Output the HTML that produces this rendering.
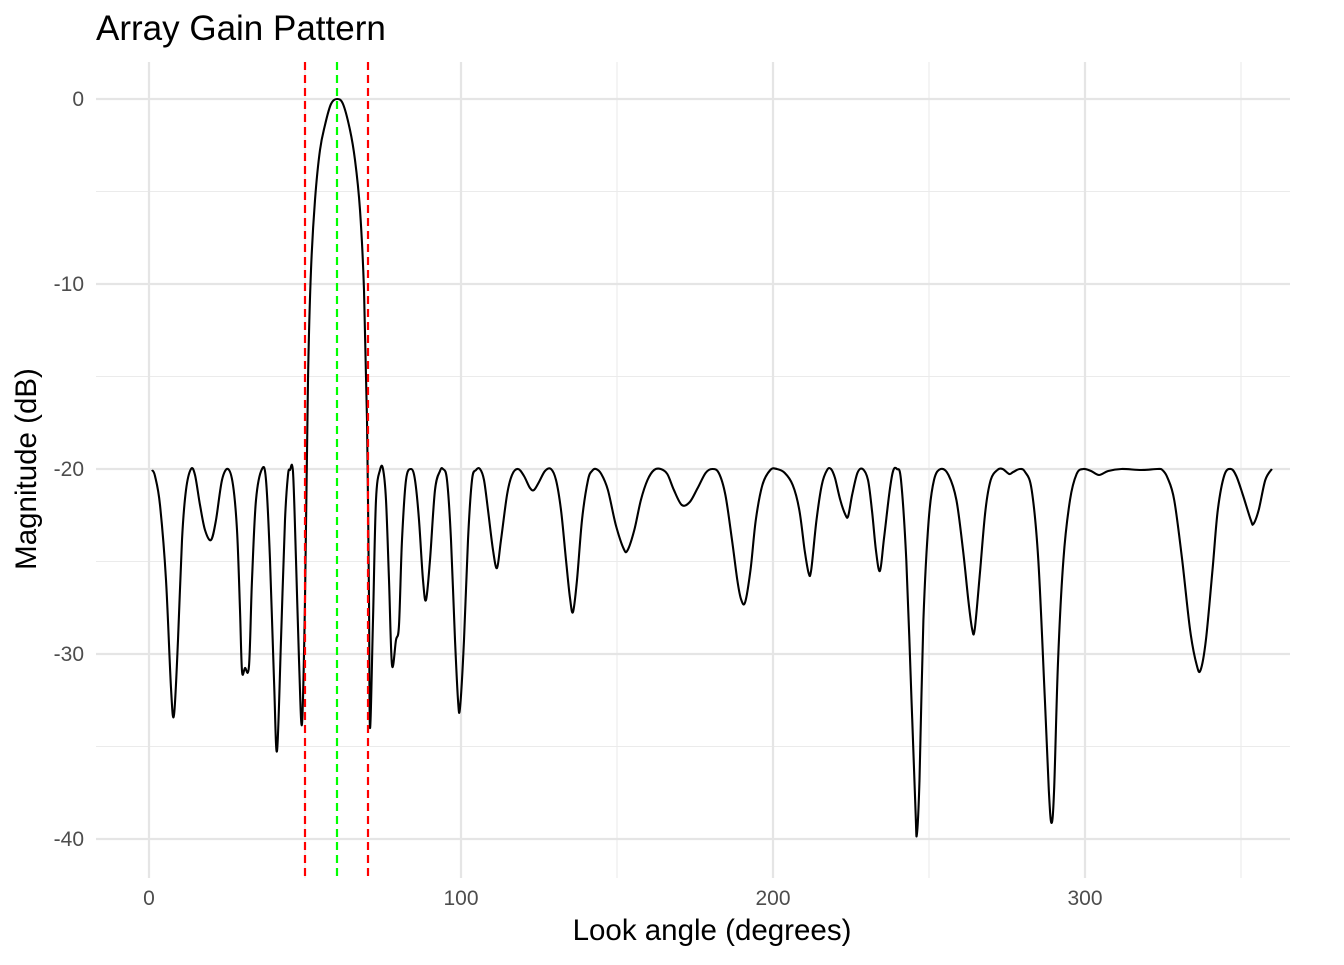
<!DOCTYPE html>
<html><head><meta charset="utf-8"><style>
body{margin:0;background:#fff;}
svg text{font-family:"Liberation Sans",sans-serif;}
</style></head><body>
<svg id="s" width="1344" height="960" viewBox="0 0 1344 960" xmlns="http://www.w3.org/2000/svg">
<rect width="1344" height="960" fill="#fff"/>
<g stroke="#ebebeb" stroke-width="1.1">
<line x1="96" x2="1290" y1="191.5" y2="191.5"/><line x1="96" x2="1290" y1="376.5" y2="376.5"/>
<line x1="96" x2="1290" y1="561.5" y2="561.5"/><line x1="96" x2="1290" y1="746.5" y2="746.5"/>
<line x1="305" x2="305" y1="62" y2="878"/><line x1="617" x2="617" y1="62" y2="878"/>
<line x1="929" x2="929" y1="62" y2="878"/><line x1="1241" x2="1241" y1="62" y2="878"/>
</g>
<g stroke="#e5e5e5" stroke-width="2.2">
<line x1="96" x2="1290" y1="99" y2="99"/><line x1="96" x2="1290" y1="284" y2="284"/>
<line x1="96" x2="1290" y1="469" y2="469"/><line x1="96" x2="1290" y1="654" y2="654"/>
<line x1="96" x2="1290" y1="839" y2="839"/>
<line x1="149" x2="149" y1="62" y2="878"/><line x1="461" x2="461" y1="62" y2="878"/>
<line x1="773" x2="773" y1="62" y2="878"/><line x1="1085" x2="1085" y1="62" y2="878"/>
</g>
<path id="curve" fill="none" stroke="#000" stroke-width="2.1" stroke-linejoin="round"/>
<g stroke-width="2.2" stroke-dasharray="8,5">
<line x1="305" x2="305" y1="62" y2="878" stroke="#ff0000"/>
<line x1="368" x2="368" y1="62" y2="878" stroke="#ff0000"/>
<line x1="337" x2="337" y1="62" y2="878" stroke="#00ff00"/>
</g>
<g fill="#4d4d4d" font-size="21" text-anchor="end">
<text x="84" y="106">0</text><text x="84" y="291">-10</text><text x="84" y="476">-20</text>
<text x="84" y="661">-30</text><text x="84" y="846">-40</text>
</g>
<g fill="#4d4d4d" font-size="21" text-anchor="middle">
<text x="149" y="905">0</text><text x="461" y="905">100</text><text x="773" y="905">200</text><text x="1085" y="905">300</text>
</g>
<text x="712" y="940" font-size="29.5" text-anchor="middle" fill="#000">Look angle (degrees)</text>
<text transform="translate(36,469) rotate(-90)" font-size="29.5" text-anchor="middle" fill="#000">Magnitude (dB)</text>
<text x="96" y="40" font-size="35" fill="#000">Array Gain Pattern</text>
</svg>
<script>
var p=[[152,470],[155,476],[160,505],[166,580],[171,688],[174,715],[178,640],[182,540],[186,490],[191,469],[195,475],[200,505],[205,530],[211,540],[216,520],[222,480],[228,469],[233,485],[237,530],[240,610],[242,671],[245,668],[249,666],[252,580],[256,500],[262,469],[266,480],[270,560],[274,680],[277,751],[281,640],[285,520],[288,475],[290,470],[293,472],[296,560],[299,660],[302,724],[305,600],[308,380],[311,270],[315,200],[320,150],[325,125],[331,104],[337,99],[343,104],[350,130],[355,160],[360,210],[364,290],[367,420],[369,600],[370,728],[373,620],[376,500],[380,470],[383,469],[386,500],[389,580],[392,665],[396,640],[399,625],[402,540],[406,480],[411,469],[415,480],[419,520],[423,580],[426,600],[430,560],[435,490],[440,471],[443,469],[447,480],[451,540],[455,640],[458,700],[460,708],[464,640],[468,540],[472,480],[476,470],[480,469],[484,480],[488,510],[493,550],[497,568],[501,540],[507,495],[512,475],[518,469],[524,476],[530,488],[534,490],[539,482],[545,471],[551,469],[556,480],[561,510],[566,560],[570,598],[573,612],[577,580],[582,520],[588,480],[592,471],[596,469],[601,474],[606,490],[612,525],[618,549],[621,550],[626,530],[631,500],[636,480],[641,470],[646,469],[651,474],[656,490],[662,505],[668,502],[674,488],[680,473],[685,469],[690,473],[695,495],[700,540],[704,580],[707,600],[710,602],[714,570],[718,520],[723,485],[729,470],[734,469],[740,473],[746,485],[751,510],[755,550],[758,573],[760,570],[764,520],[768,485],[772,470],[775,469],[778,478],[782,500],[786,515],[788,516],[791,495],[795,473],[799,469],[803,480],[806,510],[809,550],[812,571],[815,540],[819,495],[822,471],[825,469],[828,480],[832,560],[836,700],[839,810],[840,835],[842,780],[845,620],[849,520],[853,480],[858,469],[864,475],[870,500],[875,550],[879,600],[882,630],[884,628],[888,570],[892,510],[896,480],[901,470],[905,469],[910,474],[913,472],[918,469],[922,472],[927,490],[932,560],[937,700],[940,790],[942,823],[944,790],[947,660],[951,560],[956,500],[961,474],[966,469],[972,471],[978,475],[985,471],[995,469],[1010,470],[1022,469],[1026,470],[1030,478],[1035,500],[1041,560],[1047,630],[1052,665],[1055,670],[1059,640],[1064,570],[1068,510],[1073,475],[1078,469],[1082,476],[1087,495],[1093,520],[1095,524],[1099,510],[1104,480],[1109,469]];
for(var k=0;k<p.length;k++){if(p[k][0]>600)p[k][0]=600+(p[k][0]-600)*1.3201;}
var sx=function(v){return v.toFixed(1)};var d="M"+p[0][0]+","+p[0][1];
for(var i=0;i<p.length-1;i++){var p0=p[Math.max(i-1,0)],p1=p[i],p2=p[i+1],p3=p[Math.min(i+2,p.length-1)];
d+=" C"+sx(p1[0]+(p2[0]-p0[0])/6)+","+sx(p1[1]+(p2[1]-p0[1])/6)+" "+sx(p2[0]-(p3[0]-p1[0])/6)+","+sx(p2[1]-(p3[1]-p1[1])/6)+" "+sx(p2[0])+","+p2[1];}
document.getElementById("curve").setAttribute("d",d);
</script>
</body></html>
